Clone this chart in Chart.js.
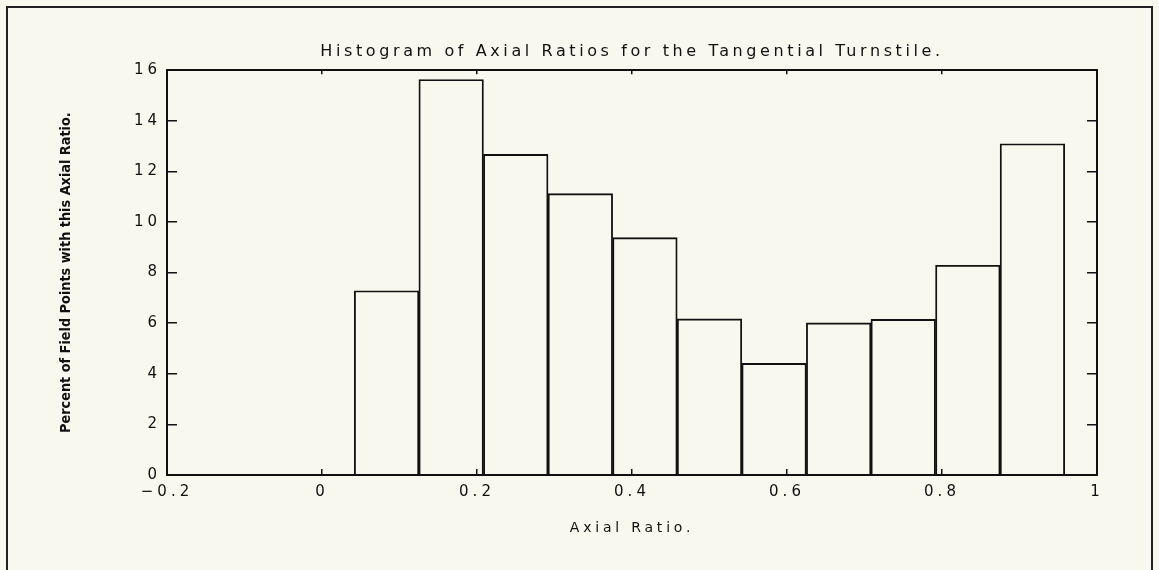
<!DOCTYPE html>
<html>
<head>
<meta charset="utf-8">
<script src="https://cdn.jsdelivr.net/npm/chart.js@4/dist/chart.umd.min.js"></script>
<style>
  html, body { margin: 0; padding: 0; background: #f8f8ef; }
  #wrap { position: relative; width: 1159px; height: 570px; overflow: hidden; }
  #frame { position: absolute; left: 6px; top: 6px; width: 1143px; height: 600px;
           border-left: 2px solid #222; border-top: 2px solid #222; border-right: 2px solid #222; }
  canvas { position: absolute; left: 0; top: 0; }
</style>
</head>
<body>
<div id="wrap">
  <div id="frame"></div>
  <canvas id="c" width="1159" height="570"></canvas>
</div>
<script>
// ---- data ----
const binCenters = [1/12, 2/12, 3/12, 4/12, 5/12, 6/12, 7/12, 8/12, 9/12, 10/12, 11/12];
const percents   = [7.28, 15.63, 12.67, 11.12, 9.38, 6.17, 4.41, 6.01, 6.15, 8.29, 13.09];
const xTickValues = [-0.2, 0, 0.2, 0.4, 0.6, 0.8, 1];
const yTickValues = [0, 2, 4, 6, 8, 10, 12, 14, 16];
const titleText = 'Histogram of Axial Ratios for the Tangential Turnstile.';
const xTitle = 'Axial Ratio.';
const yTitle = 'Percent of Field Points with this Axial Ratio.';

const INK = '#111111';
const tickFont = { family: "'DejaVu Sans', sans-serif", size: 15 };

function fmtX(v) {
  const r = Math.round(v * 10) / 10;
  if (r === 0) return '0';
  return (r < 0 ? '\u2212' : '') + String(Math.abs(r));
}

function wrapSpacing(obj, method, spacing) {
  if (!obj || obj['_wrapped_' + method]) return;
  const orig = obj[method];
  obj[method] = function () {
    const c = this.ctx || (this.chart && this.chart.ctx);
    const prev = c.letterSpacing;
    c.letterSpacing = spacing;
    const r = orig.apply(this, arguments);
    c.letterSpacing = prev;
    return r;
  };
  obj['_wrapped_' + method] = true;
}

const spacingPlugin = {
  id: 'spacing',
  beforeDraw(chart) {
    chart.ctx.letterSpacing = '0px';
    wrapSpacing(chart.titleBlock, 'draw', '3.6px');
    wrapSpacing(chart.scales.x, 'drawLabels', '4px');
    wrapSpacing(chart.scales.y, 'drawLabels', '4px');
    wrapSpacing(chart.scales.x, 'drawTitle', '3.8px');
    wrapSpacing(chart.scales.y, 'drawTitle', '0px');
  }
};

new Chart(document.getElementById('c'), {
  type: 'bar',
  data: {
    datasets: [{
      data: binCenters.map((x, i) => ({ x: x, y: percents[i] })),
      backgroundColor: 'rgba(0,0,0,0)',
      borderColor: INK,
      borderWidth: 1.2,
      barPercentage: 1,
      categoryPercentage: 1
    }]
  },
  options: {
    responsive: false,
    animation: false,
    devicePixelRatio: 1,
    layout: { padding: { left: 0, right: 62, top: 0, bottom: 0 } },
    plugins: {
      legend: { display: false },
      tooltip: { enabled: false },
      title: {
        display: true,
        fullSize: false,
        text: titleText,
        color: INK,
        font: { family: "'DejaVu Sans', sans-serif", size: 16, weight: 'normal', lineHeight: 1.2 },
        padding: { top: 42, bottom: 9 }
      }
    },
    scales: {
      x: {
        type: 'linear', position: 'bottom', min: -0.2, max: 1, offset: false,
        afterFit(s) { s.height = 95; },
        afterBuildTicks(s) { s.ticks = xTickValues.map(v => ({ value: v })); },
        ticks: { callback: fmtX, color: INK, font: tickFont, padding: 14, maxRotation: 0, autoSkip: false },
        grid: { offset: false, drawOnChartArea: false, drawTicks: true, tickLength: -6, color: INK, lineWidth: 1.5 },
        border: { color: INK, width: 2 },
        title: { display: true, text: xTitle, color: INK,
                 font: { family: "'DejaVu Sans', sans-serif", size: 14, lineHeight: 1.2 },
                 padding: { top: 0, bottom: 33 } }
      },
      x2: {
        type: 'linear', position: 'top', min: -0.2, max: 1, offset: false,
        afterFit(s) { s.height = 0; },
        afterBuildTicks(s) { s.ticks = xTickValues.map(v => ({ value: v })); },
        ticks: { display: false },
        grid: { offset: false, drawOnChartArea: false, drawTicks: true, tickLength: -4, color: INK, lineWidth: 1.5 },
        border: { color: INK, width: 2 }
      },
      y: {
        type: 'linear', position: 'left', min: 0, max: 16,
        afterFit(s) { s.width = 167; },
        afterBuildTicks(s) { s.ticks = yTickValues.map(v => ({ value: v })); },
        ticks: { color: INK, font: tickFont, padding: 16 },
        grid: { drawOnChartArea: false, drawTicks: true, tickLength: -10, color: INK, lineWidth: 1.5 },
        border: { color: INK, width: 2 },
        title: { display: true, text: yTitle, color: INK,
                 font: { family: "'Liberation Sans Narrow', 'DejaVu Sans Condensed', sans-serif", size: 14.3, weight: 'bold', lineHeight: 1.2 },
                 padding: { top: 58, bottom: 0 } }
      },
      y2: {
        type: 'linear', position: 'right', min: 0, max: 16,
        afterFit(s) { s.width = 0; },
        afterBuildTicks(s) { s.ticks = yTickValues.map(v => ({ value: v })); },
        ticks: { display: false },
        grid: { drawOnChartArea: false, drawTicks: true, tickLength: -10, color: INK, lineWidth: 1.5 },
        border: { color: INK, width: 2 }
      }
    }
  },
  plugins: [spacingPlugin]
});
</script>
</body>
</html>
